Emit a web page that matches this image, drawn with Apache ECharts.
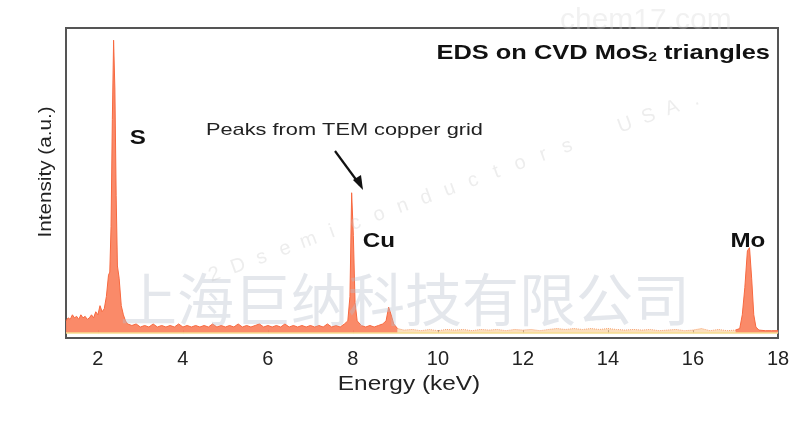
<!DOCTYPE html>
<html>
<head>
<meta charset="utf-8">
<script src="https://cdn.jsdelivr.net/npm/echarts@6/dist/echarts.min.js"></script>
<style>html,body{margin:0;padding:0;background:#fff}#c{width:800px;height:433px}</style>
</head>
<body>
<div id="c"></div>
<script>
// Energy (keV) and intensity (a.u., 0-100)
const energies = [
  1.25,1.30,1.35,1.40,1.45,1.50,1.55,1.60,1.65,1.70,1.75,1.80,1.85,1.90,1.95,2.00,2.05,2.10,2.15,2.20,
  2.25,2.28,2.31,2.34,2.37,2.40,2.43,2.46,2.50,2.55,2.60,2.65,2.70,2.80,2.90,3.00,3.10,3.20,3.30,3.40,
  3.50,3.60,3.70,3.80,3.90,4.00,4.10,4.20,4.30,4.40,4.50,4.60,4.70,4.80,4.90,5.00,5.10,5.20,5.30,5.40,
  5.50,5.60,5.70,5.80,5.90,6.00,6.10,6.20,6.30,6.40,6.50,6.60,6.70,6.80,6.90,7.00,7.10,7.20,7.30,7.40,
  7.50,7.60,7.70,7.80,7.88,7.93,7.97,8.01,8.05,8.10,8.20,8.30,8.40,8.50,8.60,8.70,8.78,8.84,8.90,8.96,
  9.05,9.20,9.40,9.60,9.80,10.0,10.2,10.4,10.6,10.8,11.0,11.2,11.4,11.6,11.8,12.0,12.2,12.4,12.6,12.8,
  13.0,13.2,13.4,13.6,13.8,14.0,14.2,14.4,14.6,14.8,15.0,15.2,15.4,15.6,15.8,16.0,16.2,16.4,16.6,16.8,
  17.0,17.10,17.16,17.22,17.28,17.33,17.38,17.43,17.48,17.55,17.70,17.85,18.0
];
const counts = [
  4,5,4.5,6,5,5.5,4.5,6,5,5.5,4.5,5,6,5,7,6,9,7,8,12,
  19,20,35,70,96,80,45,22,18,9,6,4,3,2.5,3,2,2.5,2,3,2,
  2.5,2,2.5,2,3,2,2.5,2,2.5,2,2.5,2,3,2,2.5,2,2.5,2,3,2,
  2.5,2,2.5,3,2,2.5,2,2.5,2,3,2,2.5,2,2.5,2,2.5,2,2.5,2,3,
  2,2.5,2,3,4,12,46,32,10,4,2.5,2,2.5,2,2.5,3,4,8.5,6,3,
  1.5,1,1.2,0.8,1.2,0.8,1.2,1,1.2,0.8,1.2,1,1.2,0.8,1.2,1,1.2,0.8,1.2,1.5,
  1.2,1.5,1.2,1.5,1.2,1.5,1.2,1,1.2,1,1.2,0.8,1,1.2,0.8,1,1.5,0.8,1.2,0.8,
  1,1.5,6,15,27,28,18,6,2,1,0.8,0.8,0.8
];
const tickValues = [2,4,6,8,10,12,14,16,18];
const peakLabels = [
  {text:'S',  x:2.94,  y:64},
  {text:'Cu', x:8.61,  y:30},
  {text:'Mo', x:17.29, y:30}
];
const note = 'Peaks from TEM copper grid';
const xName = 'Energy (keV)';
const yName = 'Intensity (a.u.)';
const watermarkCN = '上海巨纳科技有限公司';
const watermarkEN = '2Dsemiconductors USA.';
const splitLow = 9.05, splitMo = 17.0;

const spectrumLow = [], spectrumMid = [], spectrumMo = [];
energies.forEach((e,i)=>{
  const p = [e, counts[i]];
  if (e <= splitLow) spectrumLow.push(p);
  if (e >= splitLow && e <= splitMo) spectrumMid.push(p);
  if (e >= splitMo) spectrumMo.push(p);
});

const chart = echarts.init(document.getElementById('c'));
const font = '"Liberation Sans", Arial, sans-serif';
const orangeLine = {color:'#f7683f',width:1};
const orangeArea = {color:'#fa8461',opacity:0.95};
chart.setOption({
  animation:false,
  grid:{left:66,right:22,top:28,bottom:95,show:true,borderColor:'#555',borderWidth:2,backgroundColor:'transparent'},
  xAxis:{
    type:'value', min:1.25, max:18,
    axisLine:{show:false},
    splitLine:{show:false},
    axisTick:{show:true,inside:true,length:3,lineStyle:{color:'#777'},customValues:tickValues},
    axisLabel:{fontFamily:font,fontSize:20,color:'#222',margin:11,customValues:tickValues,showMaxLabel:true}
  },
  yAxis:{
    type:'value', min:-1.6, max:100,
    axisLine:{show:false}, axisTick:{show:false}, axisLabel:{show:false}, splitLine:{show:false}
  },
  series:[{
    type:'line', data:spectrumLow, showSymbol:false,
    lineStyle:orangeLine, areaStyle:orangeArea,
    markLine:{silent:true,symbol:'none',label:{show:false},lineStyle:{color:'#f6dc8f',width:1.5,type:'solid'},data:[{yAxis:0}]},
    z:3
  },{
    type:'line', data:spectrumMid, showSymbol:false,
    lineStyle:{color:'#f7a070',width:1,type:'dotted'},
    areaStyle:{color:'#f9c890',opacity:0.6},
    z:3
  },{
    type:'line', data:spectrumMo, showSymbol:false,
    lineStyle:orangeLine, areaStyle:orangeArea,
    z:3
  }]
});

const g = [];
// watermarks
g.push({type:'text',id:'wcn',x:120,y:271,z:20,silent:true,
  style:{text:watermarkCN,font:'57px "Noto Sans CJK SC"',fill:'rgba(185,193,206,0.38)'}});
const ang = 20*Math.PI/180;
watermarkEN.split('').forEach((ch,i)=>{
  const d = i*25 + (i>15?12:0);
  g.push({type:'text',id:'wen'+i,x:218+d*Math.cos(ang),y:284-d*Math.sin(ang),rotation:ang,z:20,silent:true,
    style:{text:ch,font:'20px '+font,fill:'rgba(200,200,200,0.32)',align:'center',verticalAlign:'bottom'}});
});
g.push({type:'text',id:'wchem',x:560,y:6,z:20,silent:true,
  style:{text:'chem17.com',font:'30px '+font,fill:'rgba(210,210,210,0.3)'}});
// title
g.push({type:'text',id:'title',x:770,y:53,scaleX:1.21,z:30,style:{rich:{
    n:{font:'bold 21px '+font,fill:'#111'},
    sub:{font:'bold 13px '+font,fill:'#111',padding:[9,0,0,0]}
  },text:'{n|EDS on CVD MoS}{sub|2}{n| triangles}',align:'right',verticalAlign:'middle'}});
// note + arrow
g.push({type:'text',id:'note',x:206,y:130,scaleX:1.28,z:30,
  style:{text:note,font:'17px '+font,fill:'#222',verticalAlign:'middle'}});
g.push({type:'line',id:'arr',z:30,shape:{x1:335,y1:151,x2:360,y2:185},style:{stroke:'#111',lineWidth:2.2}});
g.push({type:'polygon',id:'arrh',z:30,shape:{points:[[363,190],[353,180],[361,175]]},style:{fill:'#111'}});
// axis names
g.push({type:'text',id:'xn',x:409,y:384,scaleX:1.22,z:30,
  style:{text:xName,font:'20px '+font,fill:'#222',align:'center',verticalAlign:'middle'}});
g.push({type:'text',id:'yn',x:46,y:172,rotation:Math.PI/2,scaleX:1.15,z:30,
  style:{text:yName,font:'18px '+font,fill:'#222',align:'center',verticalAlign:'middle'}});
// peak labels
peakLabels.forEach((p,i)=>{
  const pt = chart.convertToPixel({gridIndex:0},[p.x,p.y]);
  g.push({type:'text',id:'pk'+i,x:pt[0],y:pt[1],scaleX:1.15,z:30,
    style:{text:p.text,font:'bold 21px '+font,fill:'#111',align:'center',verticalAlign:'middle'}});
});
chart.setOption({graphic:g});
</script>
</body>
</html>
